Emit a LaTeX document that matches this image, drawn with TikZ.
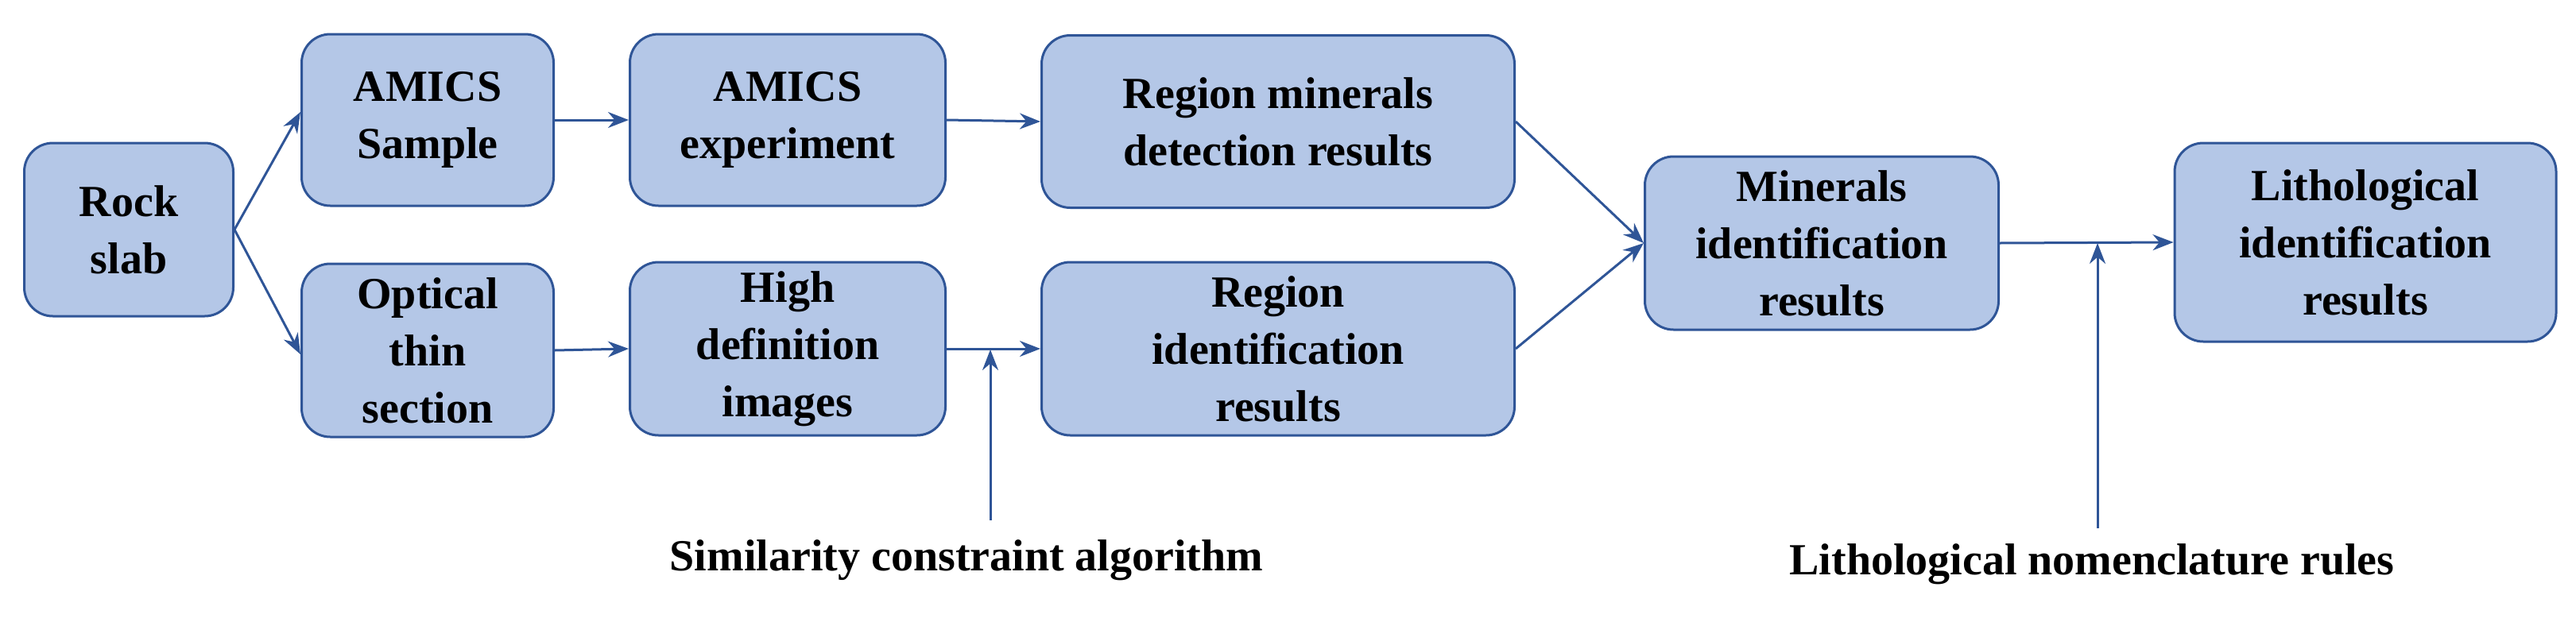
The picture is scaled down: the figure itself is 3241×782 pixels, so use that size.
\documentclass[tikz,border=0pt]{standalone}
\usepackage{fontspec}
\setmainfont{Liberation Serif}
\usetikzlibrary{arrows.meta}
\definecolor{boxfill}{HTML}{B4C7E7}
\definecolor{boxline}{HTML}{2F5597}
\begin{document}
\begin{tikzpicture}[x=1pt,y=-1pt,
 box/.style={draw=boxline,fill=boxfill,line width=3pt,rounded corners=36pt,align=center,inner sep=0pt,font=\fontsize{56}{72}\selectfont\bfseries},
 arr/.style={draw=boxline,line width=3pt,-{Stealth[length=26pt,width=20pt]}},
 lab/.style={font=\fontsize{56}{72}\selectfont\bfseries}]
\useasboundingbox (0,0) rectangle (3241,782);
\node[box,minimum width=263pt,minimum height=218pt] (rock) at (162,289) {Rock\\slab};
\node[box,minimum width=317pt,minimum height=216pt] (sample) at (538,151) {AMICS\\Sample};
\node[box,minimum width=397pt,minimum height=216pt] (exp) at (991,151) {AMICS\\experiment};
\node[box,minimum width=595pt,minimum height=217pt] (rmin) at (1608,153) {Region minerals\\detection results};
\node[box,minimum width=317pt,minimum height=218pt] (opt) at (538,441) {Optical\\thin\\section};
\node[box,minimum width=397pt,minimum height=218pt] (hd) at (991,439) {High\\definition\\images};
\node[box,minimum width=595pt,minimum height=218pt] (rid) at (1608,439) {Region\\identification\\results};
\node[box,minimum width=445pt,minimum height=218pt] (mid) at (2292,306) {Minerals\\identification\\results};
\node[box,minimum width=480pt,minimum height=250pt] (lith) at (2976,305) {Lithological\\identification\\results};
\node[lab] (sim) at (1216,705) {Similarity constraint algorithm};
\node[lab] (lnr) at (2632,710) {Lithological nomenclature rules};
\coordinate (simtop) at (1246,440);
\coordinate (simbot) at (1246,655);
\coordinate (lnrtop) at (2639,306);
\coordinate (lnrbot) at (2639,665);
\draw[arr] (rock.east) -- ([yshift=10pt]sample.west);
\draw[arr] (rock.east) -- ([yshift=-5pt]opt.west);
\draw[arr] (sample.east) -- (exp.west);
\draw[arr] (opt.east) -- (hd.west);
\draw[arr] (exp.east) -- (rmin.west);
\draw[arr] (hd.east) -- (rid.west);
\draw[arr] (rmin.east) -- (mid.west);
\draw[arr] (rid.east) -- (mid.west);
\draw[arr] (mid.east) -- (lith.west);
\draw[arr] (simbot) -- (simtop);
\draw[arr] (lnrbot) -- (lnrtop);
\end{tikzpicture}
\end{document}
